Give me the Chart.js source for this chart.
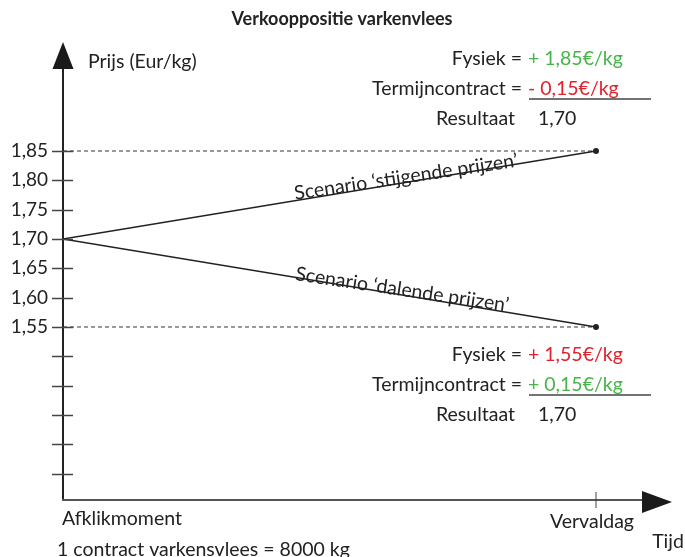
<!DOCTYPE html>
<html>
<head>
<meta charset="utf-8">
<script src="https://cdn.jsdelivr.net/npm/chart.js@4.4.1/dist/chart.umd.min.js"></script>
<style>
    html, body { margin: 0; padding: 0; background: #fff; }
    #wrap { width: 685px; height: 557px; }
</style>
</head>
<body>
<div id="wrap"><canvas id="chart"></canvas></div>
<script>
/**
 * Data van de grafiek.
 */
const TITEL = 'Verkooppositie varkenvlees';
const tijdstippen = [0, 1];
const momenten = ['Afklikmoment', 'Vervaldag'];
const stijgend = [1.70, 1.85];
const dalend = [1.70, 1.55];
const tickWaarden = [1.30, 1.35, 1.40, 1.45, 1.50, 1.55, 1.60, 1.65, 1.70, 1.75, 1.80, 1.85];
const tickLabels = ['', '', '', '', '', '1,55', '1,60', '1,65', '1,70', '1,75', '1,80', '1,85'];
const scenarioLabels = ['Scenario \u2018stijgende prijzen\u2019', 'Scenario \u2018dalende prijzen\u2019'];
const blokStijgend = [['Fysiek =', '+ 1,85\u20ac/kg'], ['Termijncontract =', '- 0,15\u20ac/kg'], ['Resultaat', '1,70']];
const blokDalend = [['Fysiek =', '+ 1,55\u20ac/kg'], ['Termijncontract =', '+ 0,15\u20ac/kg'], ['Resultaat', '1,70']];
const kleurenStijgend = ['#45b549', '#e0222c', '#222'];
const kleurenDalend = ['#e0222c', '#45b549', '#222'];

const FONT = 'Lato, "Open Sans", sans-serif';
const INKT = '#222';

const punten = (reeks) => reeks.map((y, i) => ({x: tijdstippen[i], y}));
const vlak = (waarde) => tijdstippen.map((x) => ({x, y: waarde}));

/**
 * Assen, pijlen, streepjes en losse teksten.
 */
const tekening = {
    id: 'tekening',
    afterDraw(chart) {
        const {ctx, chartArea, scales: {x, y}} = chart;
        const x0 = x.getPixelForValue(0);
        const y0 = chartArea.bottom;
        ctx.save();

        // assen
        ctx.strokeStyle = INKT;
        ctx.lineWidth = 2;
        ctx.beginPath();
        ctx.moveTo(x0, y0);
        ctx.lineTo(x0, chartArea.top + 20);
        ctx.stroke();
        ctx.strokeStyle = '#555';
        ctx.beginPath();
        ctx.moveTo(x0 - 1, y0);
        ctx.lineTo(chartArea.right - 20, y0);
        ctx.stroke();

        ctx.fillStyle = '#1a1a1a';
        ctx.beginPath();
        ctx.moveTo(x0, chartArea.top);
        ctx.lineTo(x0 - 10.5, chartArea.top + 27);
        ctx.lineTo(x0 + 10.5, chartArea.top + 27);
        ctx.closePath();
        ctx.fill();
        ctx.beginPath();
        ctx.moveTo(chartArea.right, y0 + 2);
        ctx.lineTo(chartArea.right - 30, y0 - 9);
        ctx.lineTo(chartArea.right - 30, y0 + 13);
        ctx.closePath();
        ctx.fill();

        // streepjes op de y-as
        ctx.strokeStyle = '#444';
        ctx.lineWidth = 1.5;
        y.ticks.forEach((t) => {
            const py = Math.round(y.getPixelForValue(t.value)) + 0.5;
            ctx.beginPath();
            ctx.moveTo(x0 - 11, py);
            ctx.lineTo(x0 + 10, py);
            ctx.stroke();
        });
        const xv = x.getPixelForValue(1);
        ctx.lineWidth = 1;
        ctx.beginPath();
        ctx.moveTo(xv, y0 - 8);
        ctx.lineTo(xv, y0 + 8);
        ctx.stroke();

        // titel
        ctx.fillStyle = INKT;
        ctx.textBaseline = 'middle';
        ctx.textAlign = 'center';
        ctx.font = 'bold 18px ' + FONT;
        ctx.fillText(TITEL, 342, 19);

        ctx.font = '19.5px ' + FONT;
        ctx.textAlign = 'left';
        ctx.fillText('Prijs (Eur/kg)', 88, 62);
        ctx.fillText(momenten[0], x0 - 1, y0 + 19);
        ctx.fillText('1 contract varkensvlees = 8000 kg', 57, y0 + 50);
        ctx.textAlign = 'center';
        ctx.fillText(momenten[1], xv - 4, y0 + 22);
        ctx.fillText('Tijd', 668, y0 + 42);

        // resultaatblokken
        const blok = (rijen, kleuren, top) => {
            rijen.forEach(([label, waarde], i) => {
                const py = top + i * 30;
                const laatste = i === rijen.length - 1;
                ctx.fillStyle = INKT;
                ctx.textAlign = 'right';
                ctx.fillText(label, laatste ? 515 : 522, py);
                ctx.fillStyle = kleuren[i];
                ctx.textAlign = 'left';
                ctx.fillText(waarde, laatste ? 538 : 528, py);
            });
            ctx.strokeStyle = '#444';
            ctx.lineWidth = 1.5;
            ctx.beginPath();
            ctx.moveTo(529, top + 40);
            ctx.lineTo(651, top + 40);
            ctx.stroke();
        };
        blok(blokStijgend, kleurenStijgend, 59);
        blok(blokDalend, kleurenDalend, 355);

        // scenariolabels langs de lijnen
        [0, 1].forEach((d, i) => {
            const pts = chart.getDatasetMeta(d).data;
            const a = pts[0], b = pts[1];
            const hoek = Math.atan2(b.y - a.y, b.x - a.x) * 0.9;
            const f = i === 0 ? 0.645 : 0.635;
            const px = a.x + (b.x - a.x) * f;
            const py = a.y + (b.y - a.y) * f;
            ctx.save();
            ctx.translate(px, py);
            ctx.rotate(hoek);
            ctx.fillStyle = INKT;
            ctx.textAlign = 'center';
            ctx.textBaseline = 'alphabetic';
            ctx.font = '19.5px ' + FONT;
            ctx.fillText(scenarioLabels[i], 0, 1);
            ctx.restore();
        });

        ctx.restore();
    }
};

const lijn = (data) => ({
    data,
    borderColor: INKT,
    backgroundColor: INKT,
    borderWidth: 1.5,
    pointRadius: [0, 3],
    pointBackgroundColor: INKT,
    pointBorderWidth: 0
});
const stippel = (data) => ({
    data,
    borderColor: '#333',
    borderWidth: 1,
    borderDash: [4, 3],
    pointRadius: 0
});

new Chart(document.getElementById('chart'), {
    type: 'line',
    data: {
        datasets: [
            lijn(punten(stijgend)),
            lijn(punten(dalend)),
            stippel(vlak(stijgend[1])),
            stippel(vlak(dalend[1]))
        ]
    },
    options: {
        responsive: true,
        maintainAspectRatio: false,
        animation: false,
        events: [],
        layout: {padding: {top: 42, right: 13, bottom: 57, left: 0}},
        plugins: {legend: {display: false}, tooltip: {enabled: false}},
        scales: {
            x: {type: 'linear', display: false, min: 0, max: 1.1426},
            y: {
                min: 1.2551,
                max: 2.0358,
                afterBuildTicks: (scale) => { scale.ticks = tickWaarden.map((value) => ({value})); },
                afterFit: (scale) => { scale.width = 63; },
                grid: {display: false},
                border: {display: false},
                ticks: {
                    padding: 7,
                    color: INKT,
                    font: {family: FONT, size: 19},
                    callback: (v, i) => tickLabels[i]
                }
            }
        }
    },
    plugins: [tekening]
});
</script>
</body>
</html>
